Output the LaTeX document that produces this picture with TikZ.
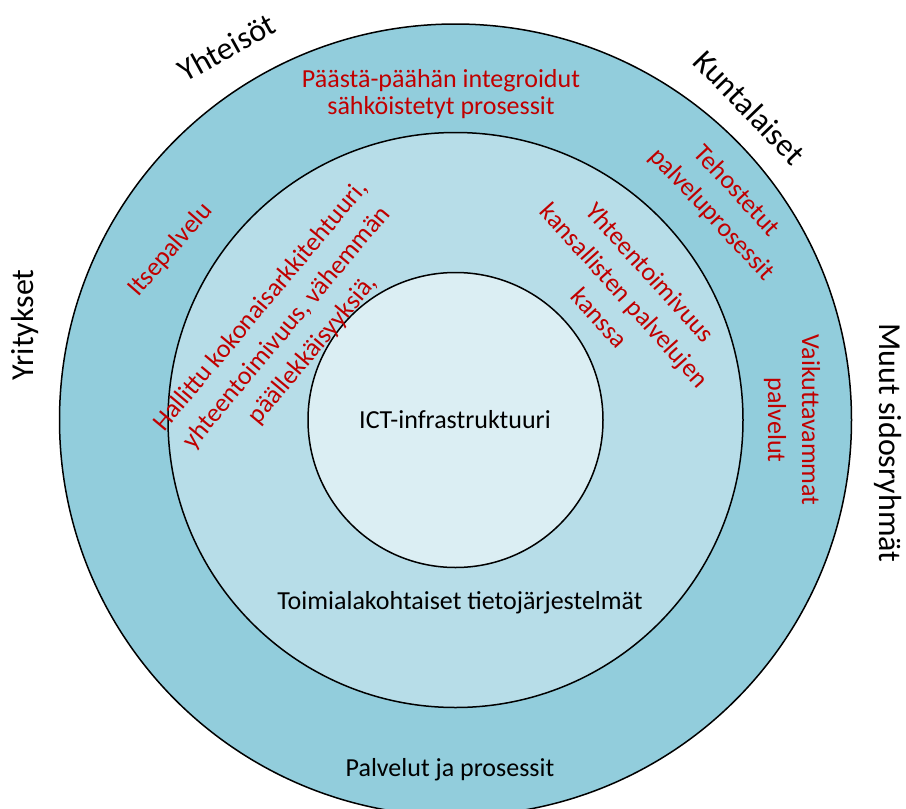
\documentclass[tikz,border=0pt]{standalone}
\usepackage{fontspec}
\setmainfont{Carlito}
\definecolor{outerblue}{HTML}{92CDDC}
\definecolor{middleblue}{HTML}{B7DDE8}
\definecolor{innerblue}{HTML}{DBEEF3}
\definecolor{txtred}{HTML}{C00000}
\begin{document}
\begin{tikzpicture}[x=1pt,y=-1pt,
  ring/.style={circle,draw=black,line width=1.5pt,inner sep=0pt},
  redtxt/.style={text=txtred,font=\fontsize{26}{34}\selectfont,align=center,inner sep=0pt},
  redtop/.style={text=txtred,font=\fontsize{26}{27}\selectfont,align=center,inner sep=0pt},
  layertxt/.style={text=black,font=\fontsize{26}{32}\selectfont,inner sep=0pt},
  grouptxt/.style={text=black,font=\fontsize{32}{38}\selectfont,inner sep=0pt,anchor=base}]
\useasboundingbox (0,0) rectangle (906,809);
\begin{scope}
  \clip (0,0) rectangle (906,809);
  % three nested layers
  \node[ring,fill=outerblue,minimum size=792pt] (outer) at (455.5,420) {};
  \node[ring,fill=middleblue,minimum size=575pt] (middle) at (455.5,420) {};
  \node[ring,fill=innerblue,minimum size=295pt] (inner) at (455.5,420) {};
\end{scope}

% layer names
\node[layertxt] (ict) at (455,420) {ICT-infrastruktuuri};
\node[layertxt] (systems) at (460,603) {Toimialakohtaiset tietojärjestelmät};
\node[layertxt] (services) at (450,770) {Palvelut ja prosessit};

% goals in red
\node[redtop] (endtoend) at (441,94) {Päästä-päähän integroidut\\sähköistetyt prosessit};
\node[redtxt,rotate=49] (selfservice) at (171,250) {Itsepalvelu};
\node[redtxt,rotate=50] (architecture) at (287,328)
  {Hallittu kokonaisarkkitehtuuri,\\yhteentoimivuus, vähemmän\\päällekkäisyyksiä,};
\node[redtxt,rotate=-47] (boosted) at (724,203) {Tehostetut\\palveluprosessit};
\node[redtxt,rotate=-48] (interop) at (625,295)
  {Yhteentoimivuus\\kansallisten palvelujen\\kanssa};
\node[redtxt,rotate=-90] (effective) at (792,420) {Vaikuttavammat\\palvelut};

% stakeholder groups around the rings
\node[grouptxt,rotate=29] (communities) at (232,57) {Yhteisöt};
\node[grouptxt,rotate=-46] (residents) at (742,115) {Kuntalaiset};
\node[grouptxt,rotate=90] (companies) at (34,325) {Yritykset};
\node[grouptxt,rotate=-90] (others) at (879,443) {Muut sidosryhmät};
\end{tikzpicture}
\end{document}
